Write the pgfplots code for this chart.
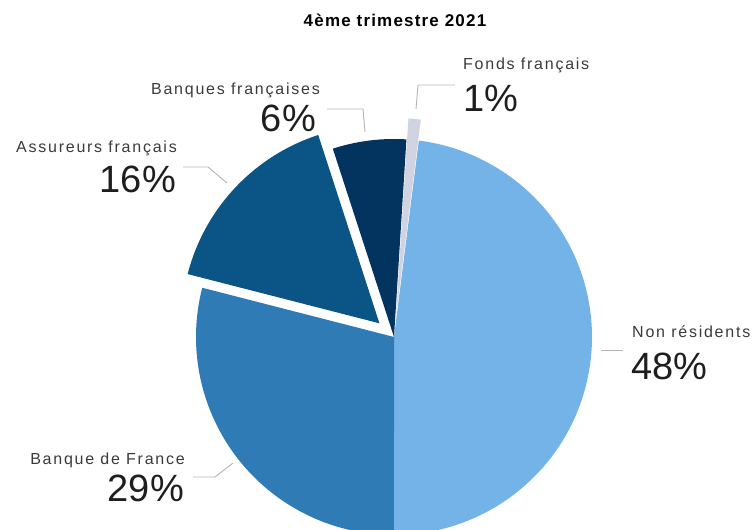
\documentclass[border=0pt]{standalone}
\usepackage{fontspec}
\setmainfont{Liberation Sans}
\newfontfamily\labfont[LetterSpace=11]{Liberation Sans}
\newfontfamily\titfont[LetterSpace=7]{Liberation Sans}
\newfontfamily\pctfont{Liberation Sans}
\usepackage{pgfplots}
\usepackage{pgfplotstable}
\pgfplotsset{compat=1.18}
\definecolor{cNR}{HTML}{74B3E8}
\definecolor{cBdF}{HTML}{2E7BB6}
\definecolor{cAss}{HTML}{0B5486}
\definecolor{cBq}{HTML}{03335F}
\definecolor{cFo}{HTML}{CFD3E2}
\definecolor{leader}{HTML}{B4B4B4}
\definecolor{labtxt}{HTML}{3A3A3A}
\definecolor{pcttxt}{HTML}{1E1E1E}

\pgfplotstableread{
name value
NR 48
BdF 29
Ass 16
Bq 6
Fonds 1
}\pietable

\newcommand\slice[4]{% colour, start angle, end angle (end < start), explode
  \pgfmathsetmacro\mA{(#2+#3)/2}%
  \pgfmathsetmacro\ox{\cx+#4*cos(\mA)}%
  \pgfmathsetmacro\oy{\cy+#4*sin(\mA)}%
  \edef\doslice{\noexpand\addplot[fill=#1, draw=none, domain=#3:#2, samples=120, variable=\noexpand\t]
    ({\ox+\R*cos(\noexpand\t)}, {\oy+\R*sin(\noexpand\t)}) -- (axis cs:\ox,\oy) -- cycle;}%
  \doslice
}
\newcommand\labA{\fontsize{16}{18}\selectfont\labfont\color{labtxt}}
\newcommand\pctA{\fontsize{38}{40}\selectfont\pctfont\color{pcttxt}}

\begin{document}%
\begin{tikzpicture}
\pgfplotstablegetelem{0}{value}\of\pietable \let\vNR\pgfplotsretval
\pgfplotstablegetelem{1}{value}\of\pietable \let\vBdF\pgfplotsretval
\pgfplotstablegetelem{2}{value}\of\pietable \let\vAss\pgfplotsretval
\pgfplotstablegetelem{3}{value}\of\pietable \let\vBq\pgfplotsretval
\pgfplotstablegetelem{4}{value}\of\pietable \let\vFo\pgfplotsretval
\pgfmathsetmacro\aO{270}
\pgfmathsetmacro\aI{\aO-3.6*\vBdF}
\pgfmathsetmacro\aII{\aI-3.6*\vAss}
\pgfmathsetmacro\aIII{\aII-3.6*\vBq}
\pgfmathsetmacro\aIV{\aIII-3.6*\vFo}
\pgfmathsetmacro\aV{\aIV-3.6*\vNR}
\def\cx{394}\def\cy{193}\def\R{198}
\useasboundingbox (0,0) rectangle (755pt,530pt);
\begin{axis}[
  at={(0,0)}, anchor=south west,
  scale only axis, width=755pt, height=530pt,
  xmin=0, xmax=755, ymin=0, ymax=530,
  hide axis, clip=true,
]
\slice{cNR}{\aIV}{\aV}{0}
\slice{cBdF}{\aO}{\aI}{0}
\slice{cBq}{\aII}{\aIII}{0}
\slice{cAss}{\aI}{\aII}{20}
\slice{cFo}{\aIII}{\aIV}{21}

% leader lines
\addplot[leader, line width=0.9pt, no marks] coordinates {(183,363) (208,363) (227,347)};
\addplot[leader, line width=0.9pt, no marks] coordinates {(193,53) (215,53) (233,67)};
\addplot[leader, line width=0.9pt, no marks] coordinates {(327,421) (363,421) (365,398)};
\addplot[leader, line width=0.9pt, no marks] coordinates {(455,445) (418,445) (416,421)};
\addplot[leader, line width=0.9pt, no marks] coordinates {(601,180) (623,180)};

% title
\node[anchor=base, inner sep=0, font=\fontsize{17}{19}\selectfont\bfseries\titfont] at (axis cs:395,503) {4ème trimestre 2021};

% labels
\node[anchor=base west, inner sep=0, font=\labA] at (axis cs:463,460) {Fonds français};
\node[anchor=base west, inner sep=0, font=\pctA] at (axis cs:463,418) {1\%};
\node[anchor=base east, inner sep=0, font=\labA] at (axis cs:320,435) {Banques françaises};
\node[anchor=base east, inner sep=0, font=\pctA] at (axis cs:316,398) {6\%};
\node[anchor=base east, inner sep=0, font=\labA] at (axis cs:177,377) {Assureurs français};
\node[anchor=base east, inner sep=0, font=\pctA] at (axis cs:176,337) {16\%};
\node[anchor=base west, inner sep=0, font=\labA] at (axis cs:632,192) {Non résidents};
\node[anchor=base west, inner sep=0, font=\pctA] at (axis cs:631,150) {48\%};
\node[anchor=base east, inner sep=0, font=\labA] at (axis cs:185,65) {Banque de France};
\node[anchor=base east, inner sep=0, font=\pctA] at (axis cs:184,28) {29\%};
\end{axis}
\end{tikzpicture}%
\end{document}
